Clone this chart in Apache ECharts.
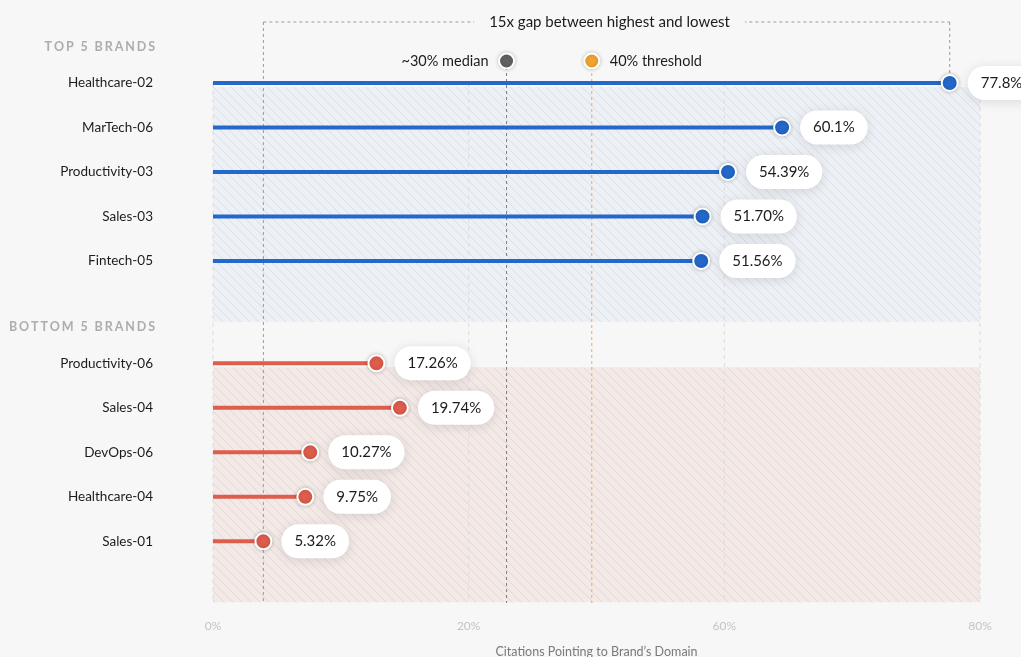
<!DOCTYPE html>
<html>
<head>
<meta charset="utf-8">
<script src="https://cdn.jsdelivr.net/npm/echarts@6/dist/echarts.min.js"></script>
<style>
  html, body { margin: 0; padding: 0; background: #f7f7f7; }
  #chart { width: 1021px; height: 657px; }
</style>
</head>
<body>
<div id="chart"></div>
<script>
// ---- data ----
const topBrands = ['Healthcare-02', 'MarTech-06', 'Productivity-03', 'Sales-03', 'Fintech-05'];
const topValues = [77.8, 60.1, 54.39, 51.70, 51.56];
const topLabels = ['77.8%', '60.1%', '54.39%', '51.70%', '51.56%'];

const bottomBrands = ['Productivity-06', 'Sales-04', 'DevOps-06', 'Healthcare-04', 'Sales-01'];
const bottomValues = [17.26, 19.74, 10.27, 9.75, 5.32];
const bottomLabels = ['17.26%', '19.74%', '10.27%', '9.75%', '5.32%'];

const groupTitles = ['TOP 5 BRANDS', 'BOTTOM 5 BRANDS'];
const xTickLabels = ['0%', '20%', '60%', '80%'];
const medianValue = 31;
const thresholdValue = 40;
const medianText = '~30% median';
const thresholdText = '40% threshold';
const axisTitle = 'Citations Pointing to Brand\u2019s Domain';

// ---- layout ----
const FONT = 'Lato, "Noto Sans", sans-serif';
const X_MIN = 0, X_MAX = 81, X_STEP = 27;
const Y_MIN = -1.865, Y_MAX = 11.685;   // one unit = one row
const BOTTOM_START = 6.3;               // slot of the first bottom-group row
const TITLE_OFFSET = 0.82;              // group title sits this far above its first row
const LEGEND_Y = -0.494;
const BRACKET_Y = -1.371;

const BLUE = '#2468cb';
const RED = '#df5d4c';

function hatch(bg, line) {
  const s = 9;
  const c = document.createElement('canvas');
  c.width = s; c.height = s;
  const ctx = c.getContext('2d');
  ctx.fillStyle = bg;
  ctx.fillRect(0, 0, s, s);
  ctx.strokeStyle = line;
  ctx.lineWidth = 1;
  ctx.beginPath();
  ctx.moveTo(-1, -1); ctx.lineTo(s + 1, s + 1);
  ctx.moveTo(-1, s - 1); ctx.lineTo(1, s + 1);
  ctx.moveTo(s - 1, -1); ctx.lineTo(s + 1, 1);
  ctx.stroke();
  return { image: c, repeat: 'repeat' };
}

const groups = [
  { title: groupTitles[0], names: topBrands, values: topValues, labels: topLabels, color: BLUE,
    rows: topBrands.map((_, i) => i), pattern: hatch('#edf0f5', '#d9dee7') },
  { title: groupTitles[1], names: bottomBrands, values: bottomValues, labels: bottomLabels, color: RED,
    rows: bottomBrands.map((_, i) => BOTTOM_START + i), pattern: hatch('#f3eae8', '#e5d6d3') }
];

const rows = [];
groups.forEach(g => g.names.forEach((name, i) => rows.push({
  name, value: g.values[i], label: g.labels[i], y: g.rows[i], color: g.color
})));

const allValues = rows.map(r => r.value);
const lowValue = Math.min(...allValues);
const highValue = Math.max(...allValues);
const highRow = rows.find(r => r.value === highValue);
const gapText = Math.round(highValue / lowValue) + 'x gap between highest and lowest';

// letter-spaced text, right aligned
const measureCtx = document.createElement('canvas').getContext('2d');
function spacedText(text, rightX, y, font, spacing, color) {
  measureCtx.font = font;
  const widths = [...text].map(ch => measureCtx.measureText(ch).width);
  const total = widths.reduce((a, b) => a + b, 0) + spacing * (text.length - 1);
  let x = rightX - total;
  return [...text].map((ch, i) => {
    const el = { type: 'text', style: { text: ch, x, y, font, fill: color, textAlign: 'left', textVerticalAlign: 'middle' } };
    x += widths[i] + spacing;
    return el;
  });
}

const chart = echarts.init(document.getElementById('chart'));

const option = {
  backgroundColor: '#f7f7f7',
  animation: false,
  grid: { left: 213, right: 41, top: 0, bottom: 54, outerBoundsMode: 'none', containLabel: false },
  xAxis: {
    type: 'value', min: X_MIN, max: X_MAX, interval: X_STEP,
    axisLine: { show: false },
    axisTick: { show: true, length: 5, lineStyle: { color: '#e6e6e6' } },
    splitLine: { show: false },
    axisLabel: {
      margin: 17, color: '#c4c4c4', fontSize: 12, fontFamily: FONT,
      showMinLabel: true, showMaxLabel: true,
      formatter: v => xTickLabels[Math.round(v / X_STEP)]
    },
    name: axisTitle, nameLocation: 'middle', nameGap: 42,
    nameTextStyle: { color: '#7a7a7a', fontSize: 12.5, fontFamily: FONT }
  },
  yAxis: { type: 'value', inverse: true, min: Y_MIN, max: Y_MAX, show: false },
  series: [
    // hatched group bands
    {
      type: 'custom', clip: false, silent: true, z: 1,
      data: groups.map((_, i) => [i]),
      renderItem(params, api) {
        const g = groups[params.dataIndex];
        const p0 = api.coord([X_MIN, g.rows[0] + 0.09]);
        const p1 = api.coord([X_MAX, Math.min(Y_MAX, g.rows[g.rows.length - 1] + 1.37)]);
        return { type: 'rect', shape: { x: p0[0], y: p0[1], width: p1[0] - p0[0], height: p1[1] - p0[1] },
                 style: { fill: g.pattern } };
      }
    },
    // vertical grid lines + group titles + brand names
    {
      type: 'custom', clip: false, silent: true, z: 2,
      data: [[0]],
      renderItem(params, api) {
        const children = [];
        for (let v = X_MIN; v <= X_MAX + 1e-6; v += X_STEP) {
          const a = api.coord([v, 0]);
          const b = api.coord([v, Y_MAX]);
          children.push({ type: 'line', shape: { x1: a[0], y1: a[1], x2: b[0], y2: b[1] },
            style: { stroke: '#dcdcdc', lineWidth: 1, lineDash: [4, 4] } });
        }
        const x0 = api.coord([X_MIN, 0])[0];
        groups.forEach(g => {
          const ty = api.coord([0, g.rows[0] - TITLE_OFFSET])[1];
          children.push(...spacedText(g.title, x0 - 58, ty, '700 12.5px Lato', 1.9, '#adadad'));
        });
        rows.forEach(r => {
          const p = api.coord([X_MIN, r.y]);
          children.push({ type: 'text', style: { text: r.name, x: x0 - 60, y: p[1], textAlign: 'right',
            textVerticalAlign: 'middle', font: '13.5px Lato', fill: '#1c1c1c' } });
        });
        return { type: 'group', children };
      }
    },
    // bracket, median and threshold
    {
      type: 'custom', clip: false, silent: true, z: 3,
      data: [[0]],
      renderItem(params, api) {
        const children = [];
        const bottomY = api.coord([0, Y_MAX])[1];
        const by = api.coord([0, BRACKET_Y])[1];
        const ly = api.coord([0, LEGEND_Y])[1];
        const xl = api.coord([lowValue, 0])[0];
        const xh = api.coord([highValue, 0])[0];
        const hy = api.coord([highValue, highRow.y])[1];
        const dash = { stroke: '#9a9a9a', lineWidth: 1, lineDash: [3, 3] };
        children.push({ type: 'line', shape: { x1: xl, y1: by, x2: xl, y2: bottomY }, style: dash });
        children.push({ type: 'line', shape: { x1: xh, y1: by, x2: xh, y2: hy }, style: dash });
        children.push({ type: 'line', shape: { x1: xl, y1: by, x2: xh, y2: by }, style: dash });
        children.push({ type: 'text', style: { text: gapText, x: (xl + xh) / 2 + 3, y: by, textAlign: 'center',
          textVerticalAlign: 'middle', font: '15px Lato', fill: '#1c1c1c', backgroundColor: '#f7f7f7', padding: [2, 15] } });

        const xm = api.coord([medianValue, 0])[0];
        const xt = api.coord([thresholdValue, 0])[0];
        children.push({ type: 'line', shape: { x1: xm, y1: ly, x2: xm, y2: bottomY },
          style: { stroke: '#7d7d7d', lineWidth: 1, lineDash: [3, 3] } });
        children.push({ type: 'line', shape: { x1: xt, y1: ly, x2: xt, y2: bottomY },
          style: { stroke: '#f4ad45', lineWidth: 1, lineDash: [3, 3] } });
        children.push({ type: 'circle', shape: { cx: xm, cy: ly, r: 7.5 },
          style: { fill: '#626262', stroke: '#fff', lineWidth: 2, shadowBlur: 4, shadowColor: 'rgba(0,0,0,0.2)' } });
        children.push({ type: 'circle', shape: { cx: xt, cy: ly, r: 7.5 },
          style: { fill: '#f2a431', stroke: '#fff', lineWidth: 2, shadowBlur: 4, shadowColor: 'rgba(0,0,0,0.2)' } });
        children.push({ type: 'text', style: { text: medianText, x: xm - 18, y: ly, textAlign: 'right',
          textVerticalAlign: 'middle', font: '14.5px Lato', fill: '#1c1c1c' } });
        children.push({ type: 'text', style: { text: thresholdText, x: xt + 18, y: ly, textAlign: 'left',
          textVerticalAlign: 'middle', font: '14.5px Lato', fill: '#1c1c1c' } });
        return { type: 'group', children };
      }
    },
    // lollipop stems
    {
      type: 'custom', clip: false, silent: true, z: 4,
      data: rows.map(r => [r.value, r.y]),
      renderItem(params, api) {
        const r = rows[params.dataIndex];
        const a = api.coord([X_MIN, r.y]);
        const b = api.coord([r.value, r.y]);
        return { type: 'line', shape: { x1: a[0], y1: a[1], x2: b[0], y2: b[1] },
                 style: { stroke: r.color, lineWidth: 4 } };
      }
    },
    // dots with value bubbles
    {
      type: 'scatter', z: 5, symbolSize: 16,
      data: rows.map(r => ({ value: [r.value, r.y], itemStyle: { color: r.color } })),
      itemStyle: { opacity: 1, borderColor: '#fff', borderWidth: 2, shadowBlur: 4, shadowColor: 'rgba(0,0,0,0.22)' },
      emphasis: { disabled: true },
      label: {
        show: true, position: 'right', distance: 9,
        formatter: p => rows[p.dataIndex].label,
        fontFamily: FONT, fontSize: 15, color: '#1c1c1c', lineHeight: 16,
        backgroundColor: '#ffffff', borderRadius: 17, padding: [9, 13],
        shadowBlur: 12, shadowColor: 'rgba(0,0,0,0.12)', shadowOffsetY: 2
      }
    }
  ]
};

chart.setOption(option);
</script>
</body>
</html>
